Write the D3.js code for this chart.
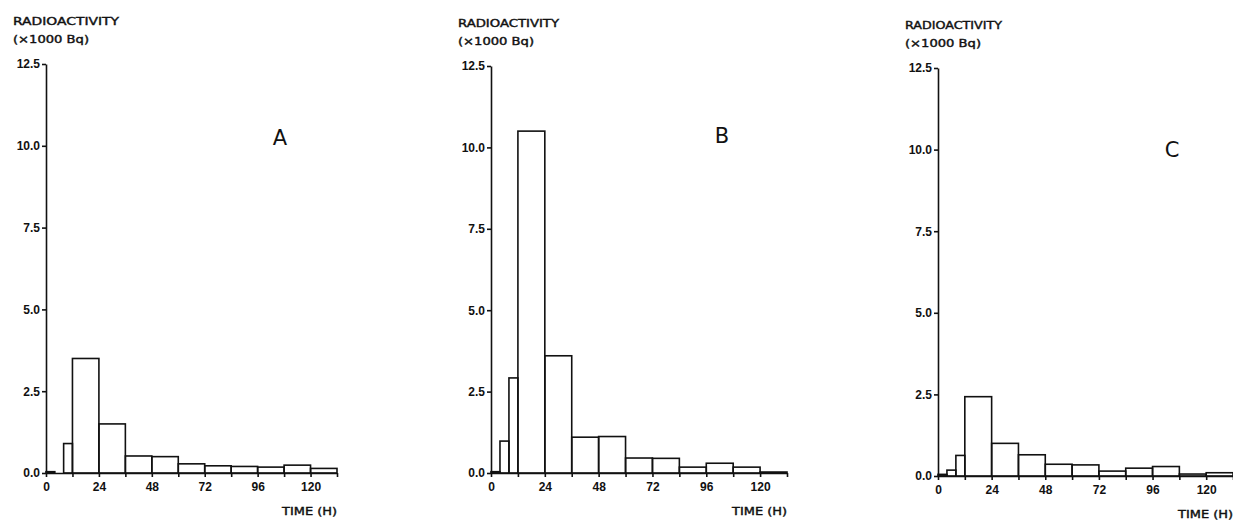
<!DOCTYPE html>
<html lang="en">
<head>
    <meta charset="UTF-8">
    <title>Radioactivity histograms</title>
    <script src="https://d3js.org/d3.v7.min.js"></script>
    <style>
        body { margin: 0; background: #fff; }
        svg { display: block; }
        .axis path, .axis line { stroke: #111; stroke-width: 1.6; }
        .axis text { font-family: "Liberation Sans", Arial, sans-serif; font-size: 12px; font-weight: bold; fill: #111; }
        .lbl { font-family: "DejaVu Sans", sans-serif; font-size: 10.5px; fill: #111; stroke: #111; stroke-width: 0.4; }
        .letter { font-family: "DejaVu Sans", sans-serif; font-size: 21px; fill: #111; }
    </style>
</head>
<body>
<script>
// time bins (hours)
var binStart = [0, 4, 8, 12, 24, 36, 48, 60, 72, 84, 96, 108, 120];
var binEnd   = [4, 8, 12, 24, 36, 48, 60, 72, 84, 96, 108, 120, 132];

// radioactivity (x1000 Bq) per bin
var valuesA = [0.04, 0, 0.9, 3.5, 1.5, 0.52, 0.5, 0.28, 0.22, 0.2, 0.18, 0.24, 0.14];
var valuesB = [0.04, 0.98, 2.92, 10.5, 3.6, 1.1, 1.12, 0.46, 0.45, 0.18, 0.3, 0.18, 0.03];
var valuesC = [0.05, 0.18, 0.63, 2.43, 1.0, 0.65, 0.36, 0.34, 0.15, 0.24, 0.29, 0.06, 0.1];

var yTicks = [0, 2.5, 5, 7.5, 10, 12.5];
var xTicks = [0, 12, 24, 36, 48, 60, 72, 84, 96, 108, 120, 132];
var xLabels = [0, 24, 48, 72, 96, 120];

var w = 1233, h = 526;
var svg = d3.select("body").append("svg")
    .attr("width", w)
    .attr("height", h);

// panel placement on the page
var panels = [
    { name: "A", values: valuesA, x0: 46,  x1: 337,  y0: 473, y1: 64, lx: 280,  ly: 145, tw: 106 },
    { name: "B", values: valuesB, x0: 491, x1: 787,  y0: 473, y1: 66, lx: 722,  ly: 143, tw: 101 },
    { name: "C", values: valuesC, x0: 938, x1: 1233, y0: 476, y1: 68, lx: 1172, ly: 157, tw: 97 }
];

panels.forEach(function(p) {
    var x = d3.scaleLinear().domain([0, 132]).range([p.x0, p.x1]);
    var y = d3.scaleLinear().domain([0, 12.5]).range([p.y0, p.y1]);
    var g = svg.append("g");

    // bars
    g.selectAll("rect")
        .data(p.values)
        .enter()
        .append("rect")
        .attr("x", function(d, i) { return x(binStart[i]); })
        .attr("y", function(d) { return y(d); })
        .attr("width", function(d, i) { return x(binEnd[i]) - x(binStart[i]); })
        .attr("height", function(d) { return y(0) - y(d); })
        .attr("fill", "none")
        .attr("stroke", "#111")
        .attr("stroke-width", 1.6);

    // y axis
    g.append("g")
        .attr("class", "axis")
        .attr("transform", "translate(" + p.x0 + ",0)")
        .call(d3.axisLeft(y).tickValues(yTicks).tickFormat(d3.format(".1f"))
            .tickSize(4).tickSizeOuter(0).tickPadding(2));

    // x axis
    g.append("g")
        .attr("class", "axis")
        .attr("transform", "translate(0," + p.y0 + ")")
        .call(d3.axisBottom(x).tickValues(xTicks)
            .tickFormat(function(d) { return xLabels.indexOf(d) >= 0 ? d : ""; })
            .tickSize(4).tickSizeOuter(0).tickPadding(5));

    // titles
    g.append("text").attr("class", "lbl")
        .attr("x", p.x0 - 33).attr("y", p.y1 - 39)
        .attr("textLength", p.tw).attr("lengthAdjust", "spacingAndGlyphs")
        .text("RADIOACTIVITY");
    g.append("text").attr("class", "lbl")
        .attr("x", p.x0 - 33).attr("y", p.y1 - 21)
        .attr("textLength", 76).attr("lengthAdjust", "spacingAndGlyphs")
        .text("(\u00d71000 Bq)");
    g.append("text").attr("class", "lbl")
        .attr("x", p.x1).attr("y", p.y0 + 42)
        .attr("text-anchor", "end")
        .attr("textLength", 55).attr("lengthAdjust", "spacingAndGlyphs")
        .text("TIME (H)");
    g.append("text").attr("class", "letter")
        .attr("x", p.lx).attr("y", p.ly)
        .attr("text-anchor", "middle")
        .text(p.name);
});
</script>
</body>
</html>
